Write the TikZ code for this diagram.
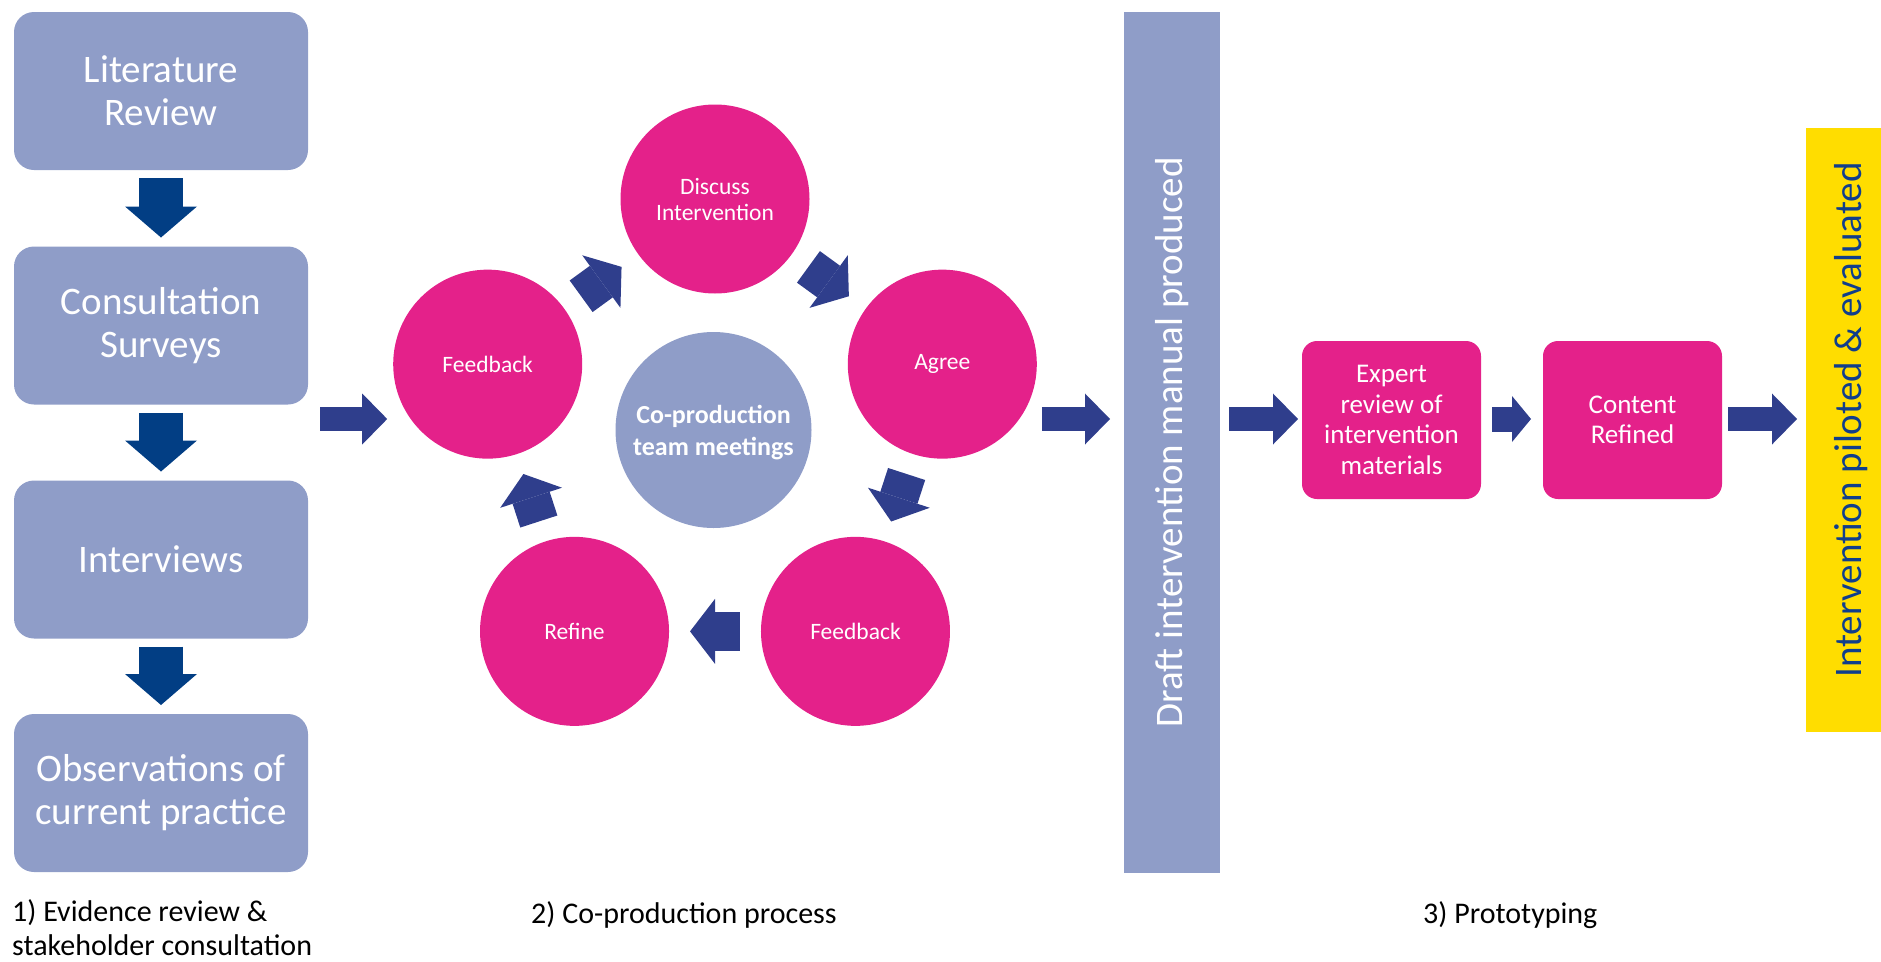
\documentclass[tikz,border=0pt]{standalone}
\usepackage{fontspec}
\setmainfont{Carlito}
\usetikzlibrary{arrows.meta,calc}

\definecolor{boxblue}{RGB}{143,157,200}
\definecolor{cycpink}{RGB}{228,33,138}
\definecolor{arrowblue}{RGB}{47,62,140}
\definecolor{downblue}{RGB}{2,62,132}
\definecolor{pilotyellow}{RGB}{255,221,0}
\definecolor{pilotnavy}{RGB}{16,62,140}

\begin{document}
\begin{tikzpicture}[x=1pt,y=-1pt,
  stage/.style={fill=boxblue,rounded corners=20pt,minimum width=294pt,minimum height=158pt,text=white,align=center,font=\fontsize{39}{43}\selectfont,inner sep=0pt,outer sep=0pt},
  cyc/.style={circle,fill=cycpink,minimum size=189pt,text=white,align=center,font=\fontsize{23.5}{26}\selectfont,inner sep=0pt,outer sep=0pt},
  proto/.style={fill=cycpink,rounded corners=15pt,minimum width=179pt,minimum height=158pt,text=white,align=center,font=\fontsize{27}{30.5}\selectfont,inner sep=0pt,outer sep=0pt},
  phase/.style={font=\fontsize{30}{34}\selectfont,inner sep=0pt,align=left},
  downarrow/.style={draw=downblue,line width=44pt,-{Triangle[length=31pt,width=72pt,line width=0pt]},shorten <=8pt,shorten >=9pt},
  flowarrow/.style={draw=arrowblue,line width=24pt,-{Triangle[length=25pt,width=51pt,line width=0pt]}},
  cycarrow/.style={draw=arrowblue,line width=39pt,-{Triangle[length=25pt,width=65pt,line width=0pt]},shorten <=21pt,shorten >=21pt}]
\useasboundingbox (0,0) rectangle (1881,961);
\coordinate (axis) at (0,419);
\coordinate (ring) at (715,438);

\node[stage] (lit) at (161,91) {Literature\\Review};
\node[stage] (cons) at (161,325.5) {Consultation\\Surveys};
\node[stage] (intv) at (161,559.5) {Interviews};
\node[stage] (obs) at (161,793) {Observations of\\current practice};
\foreach \src/\dst in {lit/cons,cons/intv,intv/obs}
  \draw[downarrow] (\src) -- (\dst);

\foreach \nm/\ang/\txt in {disc/-90/{Discuss\\Intervention},agree/-18/Agree,fbr/54/Feedback,refine/126/Refine,fbl/198/Feedback}
  \node[cyc] (\nm) at ($(ring)+(\ang:239)$) {\txt};
\node[cyc,fill=boxblue,minimum size=196pt,font=\bfseries\fontsize{26}{32}\selectfont] (meet) at (713.5,430) {\\[-8pt]Co-production\\team meetings};
\foreach \src/\dst in {fbl/disc,disc/agree,agree/fbr,fbr/refine,refine/fbl}
  \draw[cycarrow] (\src) -- (\dst);

\node[fill=boxblue,rotate=90,minimum width=861pt,minimum height=96pt,text=white,font=\fontsize{39}{43}\selectfont,inner sep=0pt,outer sep=0pt] (draft) at (1172,442.5) {Draft intervention manual produced};
\node[proto] (exp) at (1391.5,420) {Expert\\review of\\intervention\\materials};
\node[proto] (cont) at (1632.5,420) {Content\\Refined};
\node[fill=pilotyellow,minimum width=75pt,minimum height=604pt,inner sep=0pt,outer sep=0pt] (pilot) at (1843.5,430) {};
\node[rotate=90,text=pilotnavy,font=\fontsize{39}{43}\selectfont,inner sep=0pt] (piltxt) at (1851,420) {Intervention piloted \& evaluated};

\draw[flowarrow,shorten <=12pt,shorten >=6pt] (cons.east |- axis) -- (fbl.west |- axis);
\draw[flowarrow,shorten <=5pt,shorten >=14pt] (agree.east |- axis) -- (draft.north |- axis);
\draw[flowarrow,shorten <=9pt,shorten >=4pt] (draft.south |- axis) -- (exp.west |- axis);
\draw[flowarrow,line width=25pt,-{Triangle[length=19pt,width=46pt,line width=0pt]},shorten <=11pt,shorten >=12pt] (exp.east |- axis) -- (cont.west |- axis);
\draw[flowarrow,shorten <=6pt,shorten >=9pt] (cont.east |- axis) -- (pilot.west |- axis);

\node[phase,anchor=north west] (ph1) at (12,899) {1) Evidence review \&\\stakeholder consultation};
\node[phase,anchor=base west] (ph2) at (531,923) {2) Co-production process};
\node[phase,anchor=base west] (ph3) at (1423,923) {3) Prototyping};
\end{tikzpicture}
\end{document}
